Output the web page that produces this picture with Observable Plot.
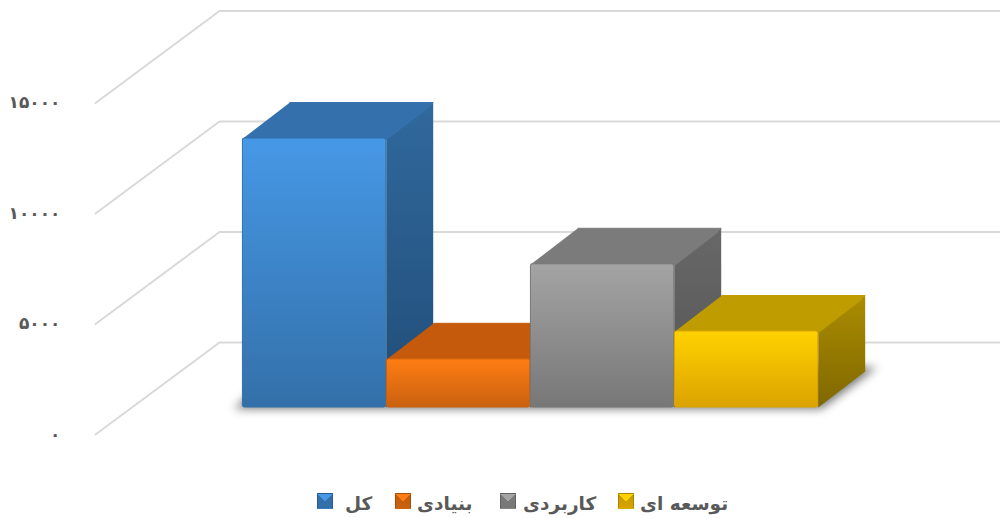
<!DOCTYPE html>
<html lang="fa">
<head>
<meta charset="utf-8">
<script src="https://cdn.jsdelivr.net/npm/d3@7"></script>
<script src="https://cdn.jsdelivr.net/npm/@observablehq/plot@0.6"></script>
<style>
html,body{margin:0;padding:0;background:#fff;overflow:hidden}
#chart svg{display:block}
#legend{position:relative;width:1000px;height:36px;font-family:"DejaVu Sans",sans-serif;font-weight:700;font-size:18.5px;color:#595959}
.item{position:absolute;top:8px;display:flex;align-items:center;height:28px;white-space:nowrap}
.sw{width:16px;height:16px;flex:none;box-sizing:border-box;border:1px solid rgba(0,0,0,.18);position:relative;top:-3px}
.lbl{position:absolute;top:8px;height:28px;line-height:28px;white-space:nowrap}
</style>
</head>
<body>
<div id="chart"></div>
<div id="legend"></div>
<script>
const categories = ["کل", "بنیادی", "کاربردی", "توسعه ای"];
const values = [12170, 2180, 6480, 3440];
const tickValues = [0, 5000, 10000, 15000];
const tickLabels = ["۰", "۵۰۰۰", "۱۰۰۰۰", "۱۵۰۰۰"];
const frontTop = ["#4698e6", "#ff7d14", "#a4a4a4", "#ffd200"];
const frontBottom = ["#3370a9", "#c9610f", "#777777", "#dba300"];
const topColors = ["#3471ac", "#c55a0c", "#7b7b7b", "#bf9c00"];
const sideTop = ["#30699d", "#a34a0a", "#686868", "#ab8c00"];
const sideBottom = ["#214d78", "#8a3f08", "#545454", "#7f6800"];
const legendLeft = [317, 395, 500, 618];
const legendTextLeft = [345, 417, 523, 640];

// oblique projection of the chart's 3D box, in data units
const depthX = 47 / 144;
const depthV = 36 * 5000 / 110.5;
const wallX = -23 / 144, wallV = 2941;
const nearX = -147 / 144, nearV = -1222;
const farX = 758 / 144;
const labelX = -182 / 144;

const grid = tickValues.flatMap(t => [
  {x: nearX, v: t + nearV, t},
  {x: wallX, v: t + wallV, t},
  {x: farX, v: t + wallV, t}
]);
const axisLabels = tickValues.map((t, i) => ({x: labelX, v: t + nearV, label: tickLabels[i]}));
const n = categories.length;
const shadow = [
  {x: -0.06, v: -60}, {x: n + 0.02, v: -60},
  {x: n + depthX + 0.08, v: depthV * 1.12}, {x: depthX - 0.06, v: depthV * 1.12}
];

function defs() {
  const d = d3.create("svg:defs");
  categories.forEach((c, i) => {
    [["f", frontTop[i], frontBottom[i]], ["s", sideTop[i], sideBottom[i]]].forEach(([k, a, b]) => {
      const g = d.append("linearGradient").attr("id", k + i).attr("x1", 0).attr("x2", 0).attr("y1", 0).attr("y2", 1);
      g.append("stop").attr("offset", 0).attr("stop-color", a);
      g.append("stop").attr("offset", 1).attr("stop-color", b);
    });
  });
  return d.node();
}

const bars = categories.flatMap((c, i) => {
  const v = values[i], x0 = i + 0.003, x1 = i + 0.998;
  const side = [{x: x1, v: 0}, {x: x1, v}, {x: x1 + depthX, v: v + depthV}, {x: x1 + depthX, v: depthV}];
  const top = [{x: x0, v}, {x: x1, v}, {x: x1 + depthX, v: v + depthV}, {x: x0 + depthX, v: v + depthV}];
  const ridge = [{x: x1, v}, {x: x1 + depthX * 0.9, v: v + depthV * 0.9}];
  return [
    Plot.line(side, {x: "x", y: "v", fill: `url(#s${i})`, strokeLinejoin: "round"}),
    Plot.line(top, {x: "x", y: "v", fill: topColors[i], stroke: topColors[i], strokeWidth: 1, strokeLinejoin: "round"}),
    Plot.line(ridge, {x: "x", y: "v", stroke: topColors[i], strokeWidth: 3, strokeOpacity: 0.9}),
    Plot.rect([{c, v}], {x1: () => x0, x2: () => x1, y1: () => 0, y2: "v", fill: `url(#f${i})`, stroke: frontBottom[i], strokeWidth: 1, r: 2})
  ];
});

const H = 482;
const chart = Plot.plot({
  width: 1000,
  height: H,
  margin: 0,
  x: {type: "linear", domain: [-242 / 144, 758 / 144], range: [0, 1000], axis: null},
  y: {type: "linear", domain: [(407 - H) * 5000 / 110.5, 407 * 5000 / 110.5], range: [H, 0], axis: null},
  marks: [
    defs,
    Plot.line(grid, {x: "x", y: "v", z: "t", stroke: "#d9d9d9", strokeWidth: 2}),
    Plot.text(axisLabels, {x: "x", y: "v", text: "label", textAnchor: "end", fontFamily: "DejaVu Sans", fontWeight: 700, fontSize: 17, fill: "#595959"}),
    Plot.line(shadow, {x: "x", y: "v", fill: "#777777", imageFilter: "blur(5px)"}),
    ...bars
  ]
});
document.getElementById("chart").append(chart);

const legend = d3.select("#legend");
categories.forEach((c, i) => {
  const it = legend.append("div").attr("class", "item").style("left", legendLeft[i] + "px");
  it.append("div").attr("class", "sw").style("background",
    `conic-gradient(from -45deg, ${frontTop[i]} 0 90deg, transparent 90deg 360deg), linear-gradient(${topColors[i]}, ${frontBottom[i]})`);
  legend.append("span").attr("class", "lbl").attr("dir", "rtl").style("left", legendTextLeft[i] + "px").text(c);
});
</script>
</body>
</html>
